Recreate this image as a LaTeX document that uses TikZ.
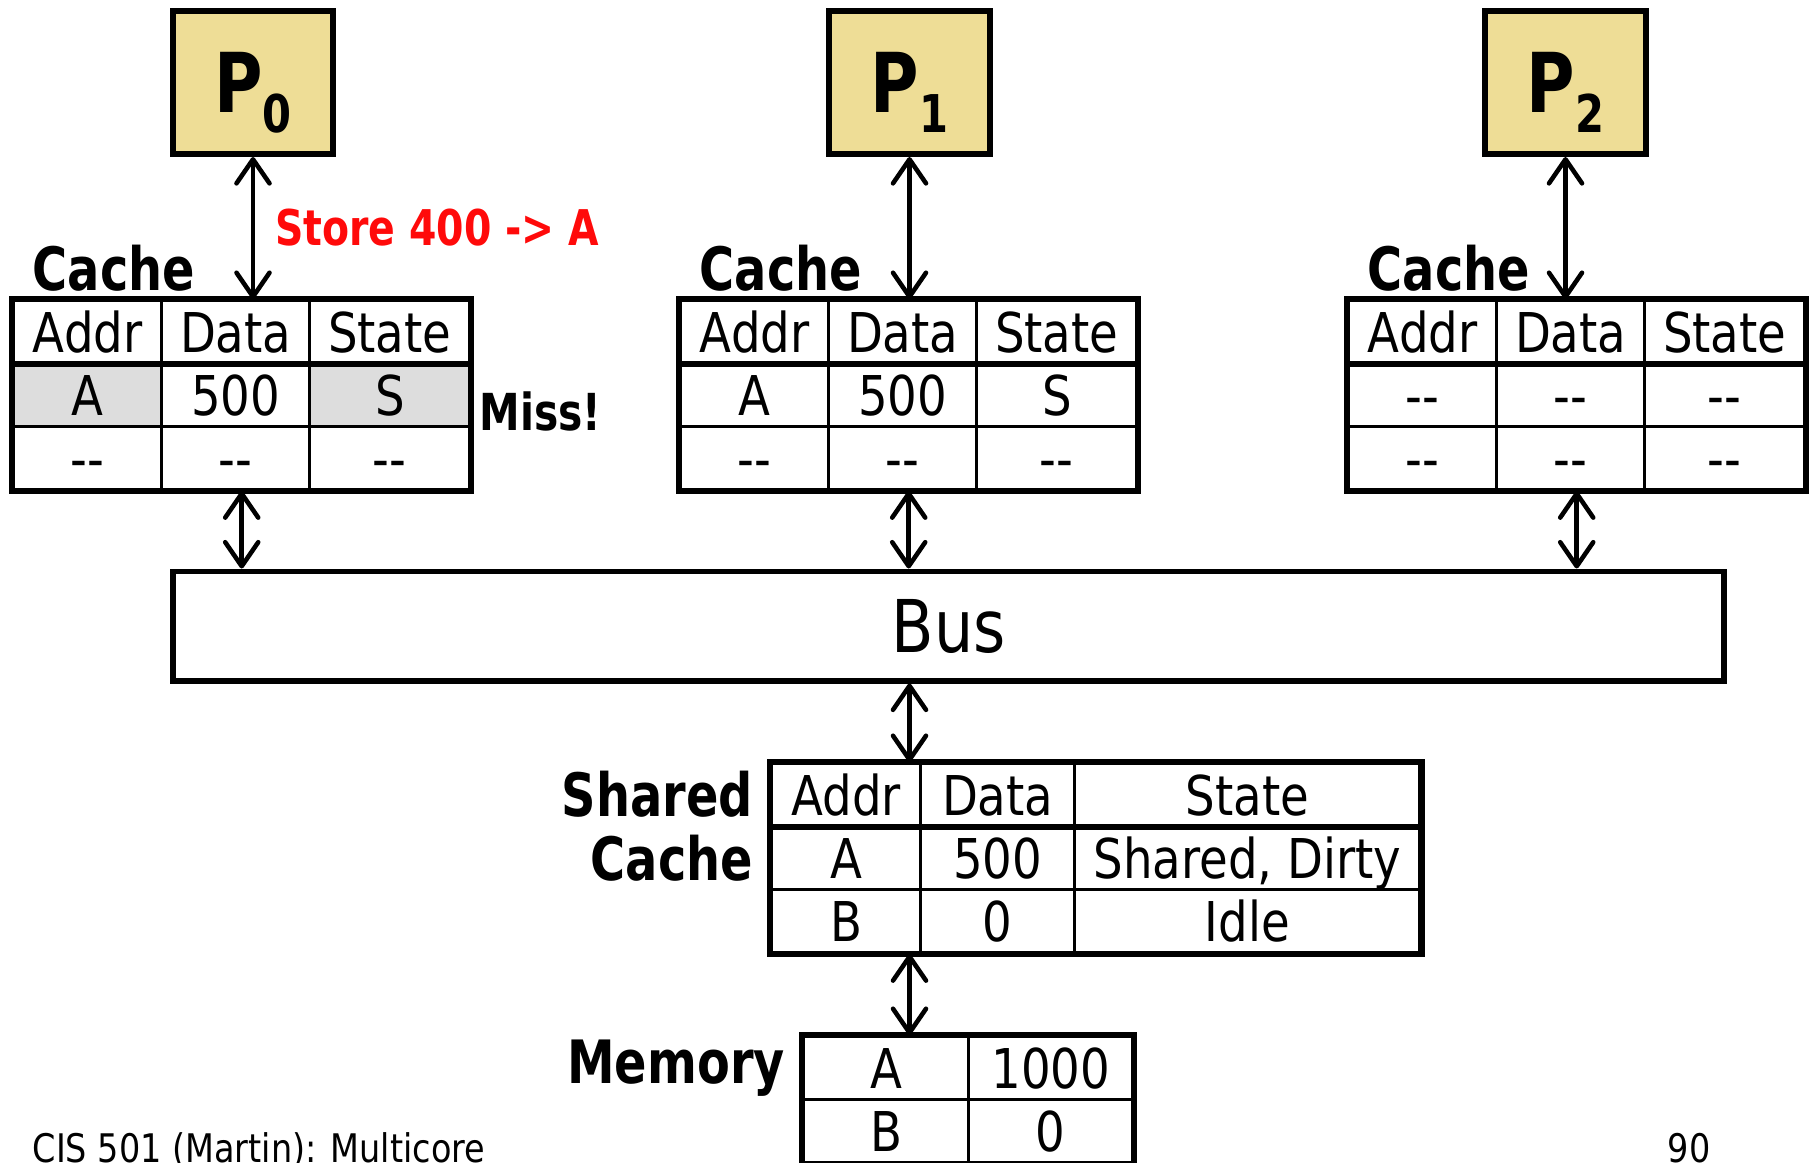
\documentclass[tikz,border=0pt]{standalone}
\usepackage{fontspec}
\setmainfont{DejaVu Sans}[FakeStretch=0.85, BoldFeatures={FakeStretch=0.8}]
\usetikzlibrary{arrows.meta, positioning, matrix}
\definecolor{cProc}{RGB}{238, 221, 150}
\definecolor{cHit}{RGB}{221, 221, 221}
\definecolor{tStore}{RGB}{255, 10, 10}
\newcommand{\pname}[1]{P\raisebox{-0.2cm}[0pt][0pt]{\fontsize{14.8}{15}\selectfont #1}}

\begin{document}
\begin{tikzpicture}[
    x=0.01cm, y=-0.01cm,
    >={Straight Barb[round, length=2.4mm, width=3.3mm]},
    proc/.style={
        draw,
        line width=1.7pt,
        fill=cProc,
        minimum width=1.6cm,
        minimum height=1.43cm,
        inner sep=0,
        font=\bfseries\fontsize{23.5}{26}\selectfont
    },
    cell/.style={
        draw,
        line width=0.9pt,
        inner sep=0,
        outer sep=0,
        anchor=center,
        minimum height=0.63cm,
        text height=13.2pt,
        text depth=1.7pt,
        font=\fontsize{15.6}{18}\selectfont
    },
    hit/.style={fill=cHit},
    tbl/.style={matrix of nodes, nodes={cell}, inner sep=0, outer sep=0,
        column sep=-0.9pt, row sep=-0.9pt, anchor=north west},
    cachetbl/.style={tbl,
        column 1/.style={nodes={minimum width=1.48cm}},
        column 2/.style={nodes={minimum width=1.48cm}},
        column 3/.style={nodes={minimum width=1.60cm}}},
    frame/.style={line width=1.7pt},
    link/.style={<->, line width=1.3pt},
    lbl/.style={inner sep=0, font=\bfseries\fontsize{17}{18.2}\selectfont},
    store/.style={inner sep=0, text=tStore, font=\bfseries\fontsize{14}{17}\selectfont},
    foot/.style={inner sep=0, font=\fontsize{11.2}{14}\selectfont}
]
\useasboundingbox (0,0) rectangle (1815,1162);

% Processors
\node[proc] (p0) at (253,82.5) {\pname{0}};
\node[proc] (p1) at (909.5,82.5) {\pname{1}};
\node[proc] (p2) at (1565.5,82.5) {\pname{2}};

% Private caches
\matrix[cachetbl] (c0) at (12,299) {
    Addr & Data & State \\
    |[hit]| A & 500 & |[hit]| S \\
    -{}- & -{}- & -{}- \\
};
\matrix[cachetbl] (c1) at (679,299) {
    Addr & Data & State \\
    A & 500 & S \\
    -{}- & -{}- & -{}- \\
};
\matrix[cachetbl] (c2) at (1347,299) {
    Addr & Data & State \\
    -{}- & -{}- & -{}- \\
    -{}- & -{}- & -{}- \\
};

\node[lbl, above right=0.07cm and 0.2cm of c0.north west] (l0) {Cache};
\node[lbl, above right=0.07cm and 0.2cm of c1.north west] (l1) {Cache};
\node[lbl, above right=0.07cm and 0.2cm of c2.north west] (l2) {Cache};
\node[lbl, font=\bfseries\fontsize{14.5}{17}\selectfont,
      right=0.09cm of c0-2-3.south east, yshift=0.15cm] (miss) {Miss!};

% Bus
\node[draw, line width=1.7pt, minimum width=15.5cm, minimum height=1.09cm,
      font=\fontsize{20.7}{24}\selectfont] (bus) at (948.5,626) {Bus};

% Shared cache and memory
\matrix[tbl,
    column 1/.style={nodes={minimum width=1.49cm}},
    column 2/.style={nodes={minimum width=1.54cm}},
    column 3/.style={nodes={minimum width=3.45cm}}] (sh) at (770,762) {
    Addr & Data & State \\
    A & 500 & Shared, Dirty \\
    B & 0 & Idle \\
};
\node[lbl, align=right, left=0.18cm of sh-1-1.south west] (shl) {Shared\\Cache};

\matrix[tbl,
    column 1/.style={nodes={minimum width=1.65cm}},
    column 2/.style={nodes={minimum width=1.64cm}}] (mem) at (802,1035) {
    A & 1000 \\
    B & 0 \\
};
\node[lbl, left=0.18cm of mem-1-1] (meml) {Memory};

% thick frames and header rules
\foreach \t in {c0, c1, c2, sh, mem}
    \draw[frame] (\t.north west) rectangle (\t.south east);
\foreach \t in {c0, c1, c2, sh}
    \draw[frame] (\t-1-1.south west) -- (\t-1-3.south east);

% Connections
\draw[link] (p0) -- (p0 |- c0.north)
    node[midway, right=0.2cm, store] {Store 400 -> A};
\draw[link] (p1) -- (p1 |- c1.north);
\draw[link] (p2) -- (p2 |- c2.north);

\draw[link] (c0.south) -- (c0.south |- bus.north);
\draw[link] (c1.south) -- (c1.south |- bus.north);
\draw[link] (c2.south) -- (c2.south |- bus.north);

\draw[link] (bus.south -| p1) -- (sh.north -| p1);
\draw[link] (sh.south -| p1) -- (mem.north -| p1);

% Footer
\node[foot, anchor=base west] (course) at (32,1162) {CIS 501 (Martin): Multicore};
\node[foot, anchor=base west] (page) at (1667,1162) {90};

\end{tikzpicture}
\end{document}
